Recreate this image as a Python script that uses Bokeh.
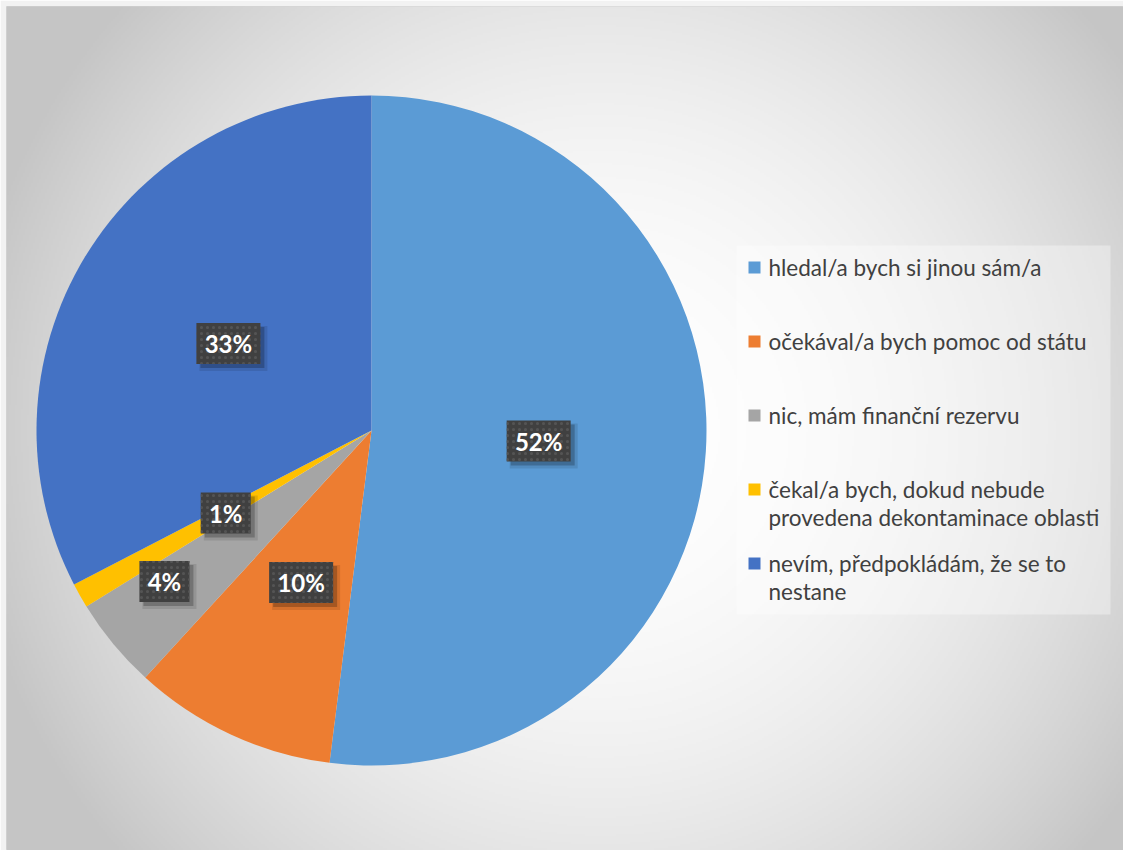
import numpy as np
from bokeh.plotting import figure
from bokeh.models import Range1d, ColumnDataSource
from bokeh.core.properties import value
from bokeh.embed import file_html
from bokeh.resources import INLINE

# ---------------- data ----------------
categories = [
    "hledal/a bych si jinou sám/a",
    "očekával/a bych pomoc od státu",
    "nic, mám finanční rezervu",
    "čekal/a bych, dokud nebude provedena dekontaminace oblasti",
    "nevím, předpokládám, že se to nestane",
]
legend_lines = [
    ["hledal/a bych si jinou sám/a"],
    ["očekával/a bych pomoc od státu"],
    ["nic, mám finanční rezervu"],
    ["čekal/a bych, dokud nebude", "provedena dekontaminace oblasti"],
    ["nevím, předpokládám, že se to", "nestane"],
]
values = [52.0, 9.8, 4.4, 1.2, 32.6]
colors = ["#5B9BD5", "#ED7D31", "#A5A5A5", "#FFC000", "#4472C4"]

# ---------------- layout / style ----------------
FIG_W, FIG_H = 1123, 850
INSET = 6                     # plot frame starts at page (6, 6)
W, H = FIG_W - INSET, FIG_H - INSET


def dx(px):
    return px - INSET


def dy(py):
    return FIG_H - py


CX, CY, R = dx(371), dy(430), 335
label_radius_frac = [0.5, 0.5, 0.765, 0.5, 0.5]
label_angle_shift_deg = [0, 0, -3.5, 0, 0]
FONT = "Lato"

p = figure(width=FIG_W, height=FIG_H, x_range=Range1d(0, W), y_range=Range1d(0, H),
           output_backend="svg", toolbar_location=None,
           min_border_left=INSET, min_border_top=INSET,
           min_border_right=0, min_border_bottom=0)
p.axis.visible = False
p.grid.visible = False
p.outline_line_color = "#d4d4d4"
p.background_fill_color = "#dcdcdc"
p.border_fill_color = "#f2f2f2"

# background radial gradient
s = 2
nx, ny = W // s + 1, H // s + 1
xs = (np.arange(nx) + 0.5) * s
ys = (np.arange(ny) + 0.5) * s
X, Y = np.meshgrid(xs, ys)
PX = X + INSET
PY = FIG_H - Y
d2 = (PX - 600) ** 2 + (PY - 430) ** 2
g = (255 - np.minimum(58, 1.4e-4 * d2)).astype(np.uint8)
img = np.empty((ny, nx), dtype=np.uint32)
view = img.view(dtype=np.uint8).reshape((ny, nx, 4))
view[..., 0] = g
view[..., 1] = g
view[..., 2] = g
view[..., 3] = 255
p.image_rgba(image=[img], x=0, y=0, dw=nx * s, dh=ny * s)

# pie wedges
vals = np.array(values, dtype=float)
frac = vals / vals.sum()
cum = np.concatenate([[0.0], np.cumsum(frac)])
start = np.pi / 2 - 2 * np.pi * cum[:-1]
end = np.pi / 2 - 2 * np.pi * cum[1:]
src = ColumnDataSource(dict(start=start, end=end, color=colors, cat=categories))
p.wedge(x=CX, y=CY, radius=R, start_angle="start", end_angle="end",
        direction="clock", fill_color="color", line_color=None, source=src)

# data labels
mid = (start + end) / 2 + np.radians(label_angle_shift_deg)
lab_txt = [f"{round(v)}%" for v in values]
lx = [CX + f * R * np.cos(a) for f, a in zip(label_radius_frac, mid)]
ly = [CY + f * R * np.sin(a) for f, a in zip(label_radius_frac, mid)]
bw = [22 + 14 * len(t) for t in lab_txt]
bh = [41] * len(lab_txt)
lsrc = ColumnDataSource(dict(x=lx, y=ly, w=bw, h=bh, t=lab_txt,
                             xs1=[x + 4 for x in lx], ys1=[y - 4 for y in ly],
                             xs2=[x + 5 for x in lx], ys2=[y - 5 for y in ly],
                             w2=[w + 4 for w in bw], h2=[h + 4 for h in bh]))
p.rect(x="xs2", y="ys2", width="w2", height="h2", source=lsrc,
       fill_color="black", fill_alpha=0.10, line_color=None)
p.rect(x="xs1", y="ys1", width="w", height="h", source=lsrc,
       fill_color="black", fill_alpha=0.22, line_color=None)
p.rect(x="x", y="y", width="w", height="h", source=lsrc,
       fill_color="#404040", line_color=None,
       hatch_pattern="dot", hatch_color="#545454", hatch_scale=6, hatch_weight=1.5)
p.text(x="x", y="y", text="t", source=lsrc, text_align="center",
       text_baseline="middle", text_color="white",
       text_font=value(FONT), text_font_style="bold", text_font_size="24px")

# legend
p.rect(x=(dx(736) + dx(1110)) / 2, y=(dy(245) + dy(614)) / 2,
       width=1110 - 736, height=614 - 245,
       fill_color="white", fill_alpha=0.35, line_color=None)
item_y0, item_step, line_step = 267, 74, 28
sq_x, sq_y, txt_x, txt_y = [], [], [], []
texts = []
for i, lines in enumerate(legend_lines):
    y0 = item_y0 + item_step * i
    sq_x.append(dx(754))
    sq_y.append(dy(y0))
    for j, ln in enumerate(lines):
        txt_x.append(dx(768))
        txt_y.append(dy(y0 + line_step * j))
        texts.append(ln)
p.rect(x=sq_x, y=sq_y, width=12, height=12, fill_color=colors, line_color=None)
p.text(x=txt_x, y=txt_y, text=texts, text_align="left", text_baseline="middle",
       text_color="#404040", text_font=value(FONT), text_font_size="22.5px")

open("out.html", "w").write(file_html(p, INLINE))
